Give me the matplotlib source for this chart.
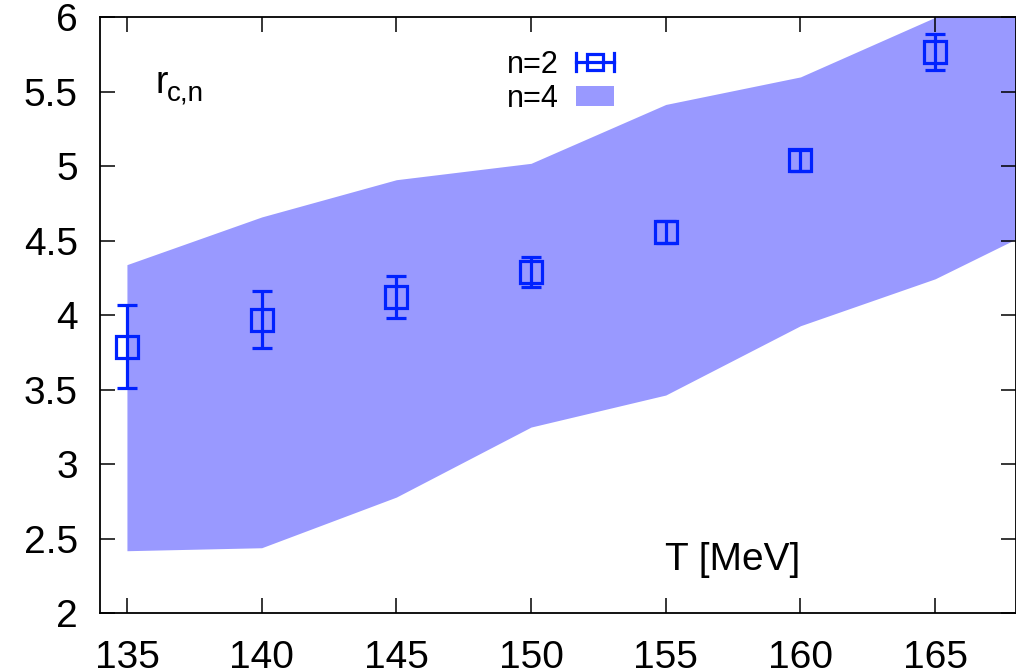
import numpy as np
import matplotlib
matplotlib.use("Agg")
import matplotlib.pyplot as plt
from matplotlib.patches import Patch
from matplotlib.lines import Line2D
from matplotlib.legend_handler import HandlerBase

plt.rcParams['font.family'] = ['Liberation Sans', 'DejaVu Sans']

# n=4 band (lower / upper edge)
T_band = [135, 140, 145, 150, 155, 160, 165, 170]
band_lo = [2.42, 2.44, 2.78, 3.25, 3.465, 3.93, 4.245, 4.69]
band_hi = [4.34, 4.66, 4.91, 5.02, 5.415, 5.60, 6.00, 6.40]

# n=2 points
T_pts = [135, 140, 145, 150, 155, 160, 165]
r_n2 = [3.79, 3.97, 4.125, 4.29, 4.56, 5.04, 5.765]
err_n2 = [0.28, 0.19, 0.14, 0.10, 0.075, 0.07, 0.12]

xticks = [135, 140, 145, 150, 155, 160, 165]
yticks = [2, 2.5, 3, 3.5, 4, 4.5, 5, 5.5, 6]
ytick_labels = ['2', '2.5', '3', '3.5', '4', '4.5', '5', '5.5', '6']

blue = '#0022ff'
band_col = '#9999ff'


class HandlerHErr(HandlerBase):
    # gnuplot-style key: horizontal bar with end caps and an open square
    def create_artists(self, legend, orig_handle, xdescent, ydescent,
                       width, height, fontsize, trans):
        y = height / 2 - ydescent
        x0, x1 = -xdescent, width - xdescent
        cap = height * 0.45
        lw = orig_handle.get_linewidth()
        c = orig_handle.get_color()
        arts = [Line2D([x0, x1], [y, y], color=c, lw=lw),
                Line2D([x0, x0], [y - cap, y + cap], color=c, lw=lw),
                Line2D([x1, x1], [y - cap, y + cap], color=c, lw=lw),
                Line2D([(x0 + x1) / 2], [y], marker='s', ms=orig_handle.get_markersize(),
                       mfc='none', mec=c, mew=lw, ls='none')]
        for a in arts:
            a.set_transform(trans)
        return arts


fig = plt.figure(figsize=(10.16, 6.72), dpi=100)
ax = fig.add_axes([100 / 1016, 58.7 / 672, 916 / 1016, 596 / 672])

ax.fill_between(T_band, band_lo, band_hi, color=band_col, lw=0, zorder=1)
ax.errorbar(T_pts, r_n2, yerr=err_n2, fmt='s', ms=16, mfc='none', mec=blue,
            mew=2.3, color=blue, elinewidth=2.3, capsize=7.5, capthick=2.3, zorder=3)

ax.set_xlim(134, 168)
ax.set_ylim(2, 6)
ax.set_xticks(xticks)
ax.set_yticks(yticks, labels=ytick_labels)
ax.tick_params(direction='in', length=11, width=1.1, top=True, right=True,
               color='black', labelsize=28)
ax.tick_params(axis='y', pad=16)
ax.tick_params(axis='x', pad=19)
for s in ax.spines.values():
    s.set_linewidth(1.3)
    s.set_zorder(5)

# r_{c,n} label: base letter plus lowered subscript (figure pixels, from bottom)
ax.annotate('r', xy=(155, 672 - 93), xycoords='figure pixels', fontsize=27,
            va='baseline', ha='left')
ax.annotate('c,n', xy=(167, 672 - 101), xycoords='figure pixels', fontsize=20,
            va='baseline', ha='left')

ax.text(0.617, 0.0727, 'T [MeV]', transform=ax.transAxes,
        fontsize=28, va='baseline', ha='left')

h_n2 = Line2D([], [], color=blue, lw=2.3, marker='s', ms=11)
h_n4 = Patch(facecolor=band_col, edgecolor='none')
leg = ax.legend([h_n2, h_n4], ['n=2', 'n=4'], handler_map={Line2D: HandlerHErr()},
                loc='upper right', bbox_to_anchor=(614 / 1016, 1 - 50 / 672),
                bbox_transform=fig.transFigure, frameon=False, markerfirst=False,
                fontsize=22, handlelength=1.25, handletextpad=0.55,
                labelspacing=0.12, borderpad=0, borderaxespad=0, handleheight=0.6)

fig.savefig('out.png', dpi=100)
